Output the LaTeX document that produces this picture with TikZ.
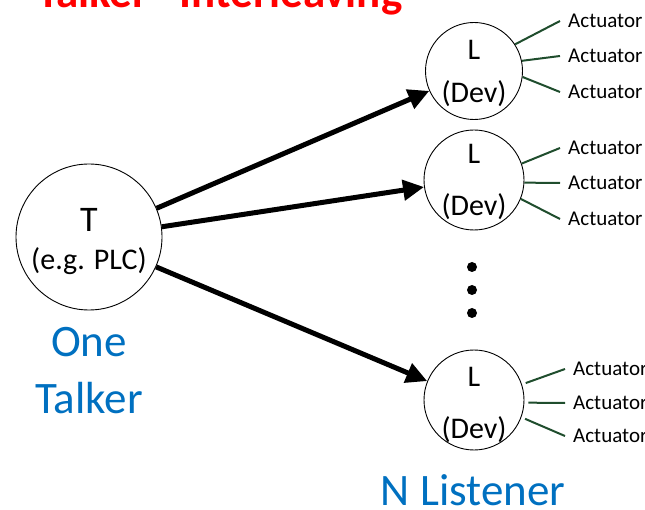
\documentclass[tikz,border=0pt]{standalone}
\usepackage{fontspec}
\setmainfont{Carlito}
\usetikzlibrary{arrows.meta}
\definecolor{wiregreen}{RGB}{31,77,45}
\definecolor{roleblue}{RGB}{0,112,192}
\definecolor{titlered}{RGB}{255,0,0}

\begin{document}
\begin{tikzpicture}[x=1pt,y=-1pt,
  station/.style={circle,draw=black,line width=0.9pt,inner sep=0pt},
  roletext/.style={font=\fontsize{30}{36}\selectfont,inner sep=0pt,anchor=base},
  flow/.style={line width=5pt,-{Triangle[length=21pt,width=20pt]}},
  wire/.style={draw=wiregreen,line width=2pt},
  actlabel/.style={font=\fontsize{21}{24}\selectfont,anchor=west,inner xsep=8pt,inner ysep=0pt},
  bigblue/.style={font=\fontsize{45}{52}\selectfont,text=roleblue,inner sep=0pt,anchor=base},
  dotmark/.style={circle,fill=black,inner sep=0pt,minimum size=10pt}
]
\useasboundingbox (0,0) rectangle (645,510);
\clip (0,0) rectangle (645,510);

% title, partly above the page edge
\node[font=\bfseries\fontsize{45}{52}\selectfont,text=titlered,inner sep=0pt,anchor=base west]
  (title) at (17,8) {"Talker" Interleaving};

% talker
\node[station,minimum size=146pt] (Tc) at (89,237) {};
\node[roletext,font=\fontsize{36}{42}\selectfont] (tname) at (89,232) {T};
\node[roletext] (tdev) at (89,270) {(e.g. PLC)};

% listeners
\node[station,minimum size=97pt] (L1) at (474,71) {};
\node[roletext] (l1name) at (474,60) {L};
\node[roletext] (l1dev) at (474,103) {(Dev)};

\node[station,minimum size=100pt] (L2) at (474,180) {};
\node[roletext] (l2name) at (474,164) {L};
\node[roletext] (l2dev) at (474,216) {(Dev)};

\node[station,minimum size=100pt] (L3) at (474,400) {};
\node[roletext] (l3name) at (474,386) {L};
\node[roletext] (l3dev) at (474,438) {(Dev)};

% streams from the talker
\draw[flow] (Tc.23) -- (L1.-156);
\draw[flow] (Tc.8) -- (L2.-172);
\draw[flow] (Tc.-24) -- (L3.158);

% more listeners
\node[dotmark] (d1) at (472,267) {};
\node[dotmark] (d2) at (472,290) {};
\node[dotmark] (d3) at (472,313) {};

% actuators
\node[actlabel] (a11) at (560,21) {Actuator};
\node[actlabel] (a12) at (560,56) {Actuator};
\node[actlabel] (a13) at (560,92) {Actuator};
\draw[wire] (L1.33) -- (a11.west);
\draw[wire] (L1.12) -- (a12.west);
\draw[wire] (L1.-7) -- (a13.west);

\node[actlabel] (a21) at (560,148) {Actuator};
\node[actlabel] (a22) at (560,183) {Actuator};
\node[actlabel] (a23) at (560,219) {Actuator};
\draw[wire] (L2.19) -- (a21.west);
\draw[wire] (L2.-3) -- (a22.west);
\draw[wire] (L2.-22) -- (a23.west);

\node[actlabel] (a31) at (565,369) {Actuator};
\node[actlabel] (a32) at (565,403) {Actuator};
\node[actlabel] (a33) at (565,436) {Actuator};
\draw[wire,shorten <=4pt] (L3.18) -- (a31.west);
\draw[wire,shorten <=4pt] (L3.-3) -- (a32.west);
\draw[wire,shorten <=4pt] (L3.-20) -- (a33.west);

% role captions
\node[bigblue] (one) at (89,357) {One};
\node[bigblue] (talker) at (89,413) {Talker};
\node[bigblue] (nlist) at (473,505) {N Listener};
\end{tikzpicture}
\end{document}
